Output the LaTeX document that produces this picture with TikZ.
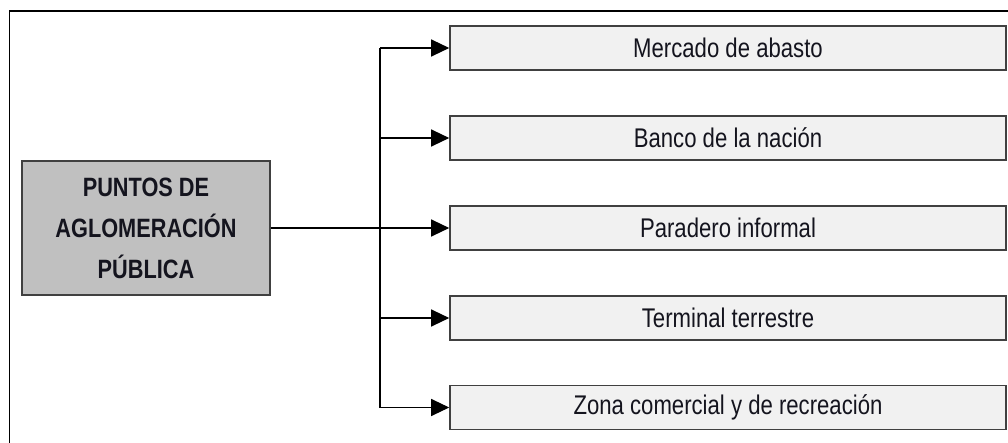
\documentclass[tikz,border=0pt]{standalone}
\usepackage{fontspec}
\setmainfont[FakeStretch=0.82]{Liberation Sans}
\usetikzlibrary{arrows.meta}
\usetikzlibrary{positioning}
\definecolor{titlegrey}{RGB}{192,192,192}
\definecolor{itemgrey}{RGB}{241,241,241}
\definecolor{edgegrey}{RGB}{64,64,64}
\definecolor{inkcolour}{RGB}{20,20,30}
\tikzset{>={Triangle[length=18pt,width=17pt]}}
\newcommand\linewd{1.2pt}
\newcommand\boxwidth{1.6pt}
\tikzstyle{graph} = [line width=\linewd]
\tikzstyle{title} =
 [draw=edgegrey, fill=titlegrey, line width=\boxwidth, inner sep=0pt,
  minimum width=248pt, minimum height=134pt, align=center, text=inkcolour,
  font=\fontsize{26.5}{41}\selectfont\bfseries]
\tikzstyle{item} =
 [draw=edgegrey, fill=itemgrey, line width=\boxwidth, inner sep=0pt,
  minimum width=556pt, minimum height=44pt, text=inkcolour,
  font=\fontsize{27}{30}\selectfont]

\begin{document}
\begin{tikzpicture}[x=1pt, y=-1pt]
  \useasboundingbox (0,0) rectangle (1008,443);
  \draw[line width=1.5pt] (9.5,443) -- (9.5,11) -- (1008,11);
  \draw (146,228) node[title] (puntos) {PUNTOS DE\\AGLOMERACIÓN\\PÚBLICA};
  \draw (728,48) node[item] (mercado) {Mercado de abasto};
  \draw (728,138) node[item] (banco) {Banco de la nación};
  \draw (728,228) node[item] (paradero) {Paradero informal};
  \draw (728,318) node[item] (terminal) {Terminal terrestre};
  \draw (728,407.5) node[item] (zona) {Zona comercial y de recreación};
  \coordinate (jmercado) at (380,48);
  \coordinate (jbanco) at (380,138);
  \coordinate (jterminal) at (380,318);
  \coordinate (jzona) at (380,407.5);
  \draw (jmercado) -- (jzona) [graph];
  \draw (puntos) -- (paradero) [graph, ->];
  \draw (jmercado) -- (mercado) [graph, ->];
  \draw (jbanco) -- (banco) [graph, ->];
  \draw (jterminal) -- (terminal) [graph, ->];
  \draw (jzona) -- (zona) [graph, ->];
\end{tikzpicture}
\end{document}
